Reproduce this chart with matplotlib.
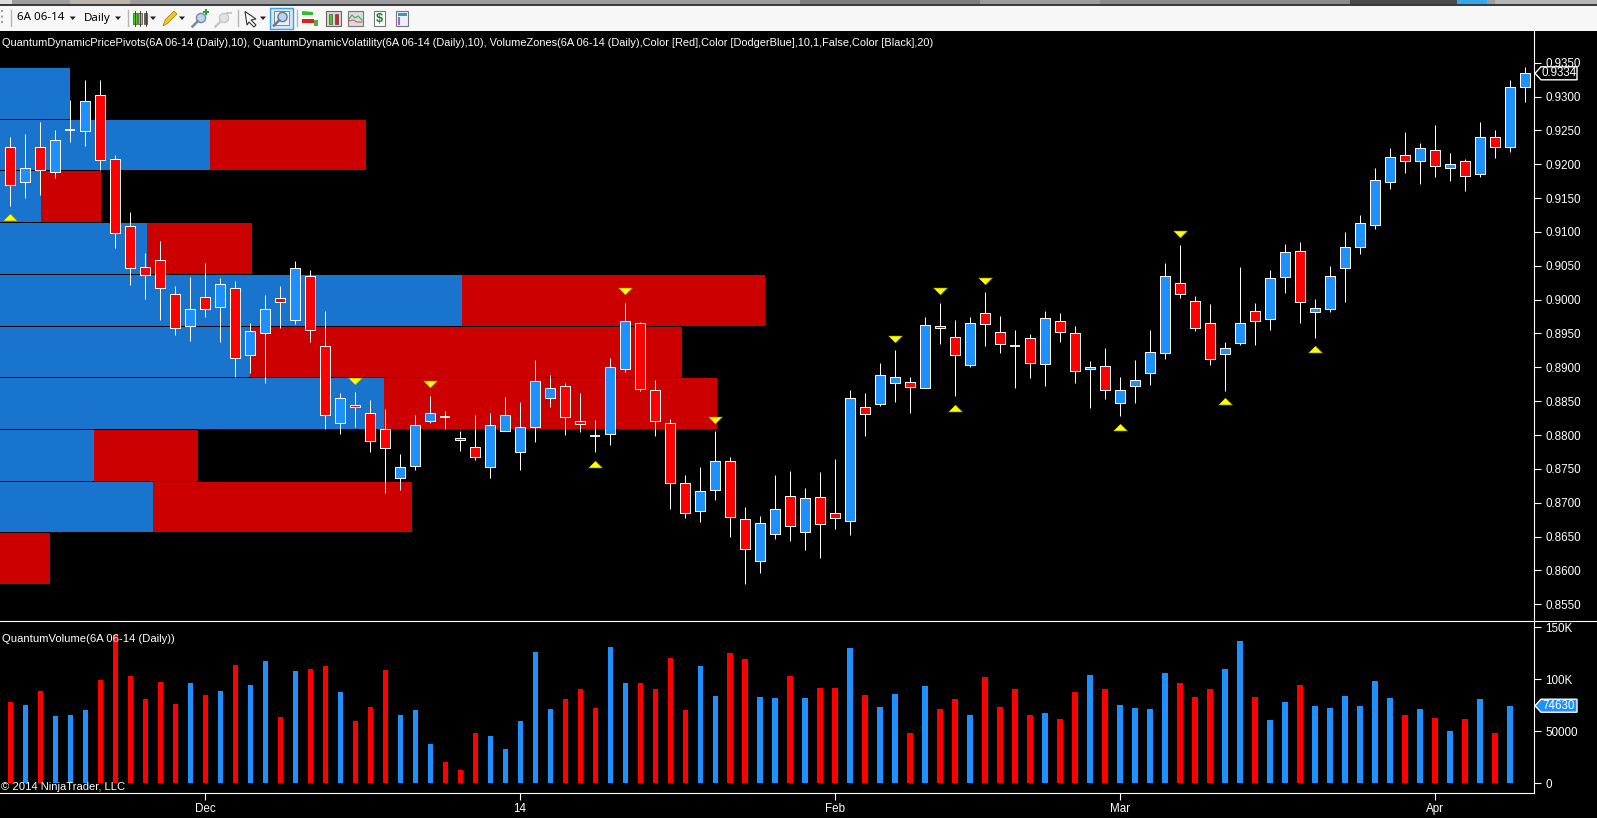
import matplotlib
matplotlib.use('Agg')
import matplotlib.pyplot as plt
from matplotlib.patches import Rectangle, Polygon

plt.rcParams['font.family'] = ['Liberation Sans', 'DejaVu Sans']

W, H = 1597, 818

# candles, one entry per daily bar
opens = [.92250, .91733, .92250, .91881, .92501, .92486, .93018, .92073, .91083, .90478,
         .90581, .90081, .89603, .90036, .89884, .90169, .89175, .89505, .90022, .89706,
         .90346, .89313, .88170, .88441, .88323, .88087, .87358, .87535, .88200, .88260,
         .87954, .87821, .87521, .88052, .87742, .88111, .88554, .88722, .88200, .87979,
         .88008, .88973, .89652, .88663, .88175, .87289, .86876, .87186, .87614, .86758,
         .86132, .86536, .87092, .86566, .87082, .86846, .86728, .88412, .88456, .88766,
         .88781, .88692, .89608, .89446, .89032, .89800, .89519, .89313, .89431, .89047,
         .89681, .89503, .88972, .89016, .88470, .88721, .88913, .89208, .90242, .89976,
         .89651, .89193, .89356, .89828, .89710, .90340, .90714, .89823, .89858, .90463,
         .90774, .91098, .91734, .92132, .92044, .92206, .91940, .92044, .91852, .92408,
         .92250, .93137]
highs = [.92398, .92447, .92624, .92506, .92949, .93244, .93244, .92137, .91295, .90689,
         .90867, .90204, .90337, .90537, .90322, .90278, .89657, .90071, .90204, .90571,
         .90438, .89834, .88623, .88638, .88520, .88387, .87722, .88299, .88579, .88358,
         .88062, .88299, .88328, .88564, .88490, .89111, .88884, .88771, .88623, .88225,
         .89140, .89953, .89672, .88815, .88239, .87412, .87530, .88062, .87678, .86935,
         .86802, .87412, .87471, .87215, .87457, .87644, .88668, .88618, .89067, .89258,
         .88860, .89746, .89953, .89702, .89746, .90115, .89761, .89554, .89490, .89834,
         .89804, .89612, .89095, .89282, .88858, .89110, .89553, .90537, .90808, .90050,
         .89937, .89375, .90483, .89951, .90439, .90823, .90852, .90011, .90498, .91000,
         .91251, .91945, .92241, .92477, .92315, .92580, .92167, .92078, .92625, .92506,
         .93240, .93432]
lows = [.91388, .91507, .91546, .91802, .92329, .92270, .91915, .90763, .90217, .90010,
        .89702, .89470, .89382, .89736, .89381, .88850, .88909, .88761, .89588, .89647,
        .89367, .88082, .88008, .88111, .87742, .87137, .87181, .87476, .88171, .88082,
        .87757, .87624, .87358, .88052, .87476, .87890, .88407, .87993, .88038, .87742,
        .87846, .88938, .88643, .87979, .86900, .86767, .86708, .87033, .86487, .85793,
        .85955, .86457, .86428, .86295, .86177, .86605, .86516, .87979, .88422, .88481,
        .88328, .88692, .89337, .88569, .88998, .89308, .89204, .88687, .88845, .88717,
        .89380, .88775, .88406, .88538, .88287, .88479, .88745, .89129, .90030, .89543,
        .89041, .88657, .89336, .89325, .89558, .90104, .89661, .89439, .89823, .89971,
        .90680, .91049, .91640, .91876, .91714, .91817, .91758, .91610, .91817, .92098,
        .92186, .92925]
closes = [.91689, .91940, .91910, .92353, .92501, .92929, .92058, .90980, .90463, .90369,
          .90169, .89578, .89859, .89859, .90228, .89135, .89534, .89859, .89962, .90463,
          .89549, .88289, .88545, .88412, .87905, .87801, .87526, .88146, .88323, .88260,
          .87924, .87668, .88146, .88294, .88116, .88796, .88692, .88259, .88161, .87979,
          .89002, .89682, .88678, .88200, .87289, .86846, .87171, .87614, .86787, .86314,
          .86698, .86905, .86654, .87068, .86679, .86772, .88545, .88308, .88884, .88855,
          .88707, .89623, .89578, .89180, .89652, .89638, .89342, .89313, .89062, .89726,
          .89518, .88942, .89001, .88662, .88662, .88809, .89223, .90355, .90079, .89577,
          .89119, .89282, .89651, .89681, .90316, .90700, .89961, .89873, .90355, .90774,
          .91138, .91763, .92103, .92044, .92246, .91970, .91999, .91822, .92408, .92260,
          .93137, .93343]

# volume in thousands, the last session has no bar
volumes = [78.2, 75.3, 88.8, 64.7, 65.7, 70.5, 99.4, 142.6, 103.2, 81.1, 97.4, 76.3, 96.5, 84.9,
           88.8, 113.8, 94.6, 117.6, 63.8, 108.0, 109.9, 112.8, 87.8, 59.9, 73.4, 109.0, 65.7,
           70.5, 37.8, 20.5, 12.8, 48.4, 45.5, 33.0, 59.9, 126.3, 71.5, 81.1, 90.7, 72.4, 131.1,
           96.5, 96.5, 90.7, 120.5, 70.5, 112.8, 84.0, 125.3, 119.6, 83.0, 82.1, 103.2, 82.1,
           91.7, 91.7, 130.1, 84.9, 73.4, 85.9, 48.4, 93.6, 71.5, 81.1, 65.7, 102.2, 73.4, 90.7,
           65.7, 67.6, 61.9, 87.8, 104.2, 90.7, 75.3, 72.4, 71.5, 106.1, 96.5, 83.0, 90.7, 109.9,
           136.9, 83.0, 60.9, 78.2, 94.6, 74.4, 72.4, 84.0, 74.4, 98.4, 82.1, 65.7, 71.5, 62.8,
           50.3, 61.9, 81.1, 48.4, 74.63]

# volume zones: price band and how many bars wide the blue and red parts are
zone_hi = [.93422, .92654, .91900, .91132, .90364, .89596, .88843, .88075, .87307, .86554]
zone_lo = [.92668, .91915, .91147, .90379, .89611, .88857, .88089, .87322, .86569, .85800]
zone_blue = [4.67, 14.0, 2.73, 9.8, 30.8, 16.67, 25.6, 6.27, 10.2, 0.0]
zone_red = [0.0, 10.4, 4.0, 7.0, 20.2, 28.8, 22.2, 6.93, 17.27, 3.33]

# pivot markers
pivot_up_x = [0, 39, 63, 74, 81, 87]
pivot_up_y = [.91226, .87575, .88402, .88115, .88499, .89267]
pivot_dn_x = [23, 28, 41, 47, 59, 62, 65, 78]
pivot_dn_y = [.88791, .88747, .90120, .88215, .89411, .90120, .90282, .90975]

price_ticks = [.8550, .8600, .8650, .8700, .8750, .8800, .8850, .8900, .8950, .9000, .9050,
               .9100, .9150, .9200, .9250, .9300, .9350]
vol_ticks = [0, 50, 100, 150]
vol_tick_labels = ['0', '50000', '100K', '150K']
date_ticks = [13, 34, 55, 74, 95]
date_labels = ['Dec', '14', 'Feb', 'Mar', 'Apr']
last_price = '0.9334'
last_volume = '74630'

title = ('QuantumDynamicPricePivots(6A 06-14 (Daily),10), QuantumDynamicVolatility(6A 06-14 (Daily),10), '
         'VolumeZones(6A 06-14 (Daily),Color [Red],Color [DodgerBlue],10,1,False,Color [Black],20)')

BLUE = '#1E90FF'
RED = '#FF0000'
ZONE_BLUE = '#1874CD'
ZONE_RED = '#CD0000'

fig = plt.figure(figsize=(W / 100, H / 100), dpi=100, facecolor='black')

spine_x = 1534
top_y, sep_y, bot_y = 31, 621.3, 793.3
ax = fig.add_axes([0, (H - sep_y) / H, spine_x / W, (sep_y - top_y) / H], facecolor='black')
axv = fig.add_axes([0, (H - bot_y) / H, spine_x / W, (bot_y - sep_y) / H], facecolor='black')

x_left, x_right = -0.673, 101.6
ax.set_xlim(x_left, x_right)
axv.set_xlim(x_left, x_right)
ax.set_ylim(.85248, .93968)
axv.set_ylim(-9.6, 155.8)

# zones
for i in range(len(zone_hi)):
    h = zone_hi[i] - zone_lo[i]
    ax.add_patch(Rectangle((x_left, zone_lo[i]), zone_blue[i], h, fc=ZONE_BLUE, ec='none', zorder=1))
    ax.add_patch(Rectangle((x_left + zone_blue[i], zone_lo[i]), zone_red[i], h, fc=ZONE_RED, ec='none', zorder=1))

# candles
for i in range(len(opens)):
    o, c = opens[i], closes[i]
    ax.vlines(i, lows[i], highs[i], color='white', lw=0.72, zorder=3)
    if o == c:
        ax.hlines(o, i - 0.36, i + 0.36, color='white', lw=1.3, zorder=4)
    else:
        col = BLUE if c > o else RED
        ax.add_patch(Rectangle((i - 0.34, min(o, c)), 0.68, abs(c - o), fc=col, ec='white', lw=0.72,
                               zorder=4, snap=True))

ax.plot(pivot_up_x, pivot_up_y, ls='none', marker=[(-1, -0.5), (1, -0.5), (0, 0.5)], ms=10,
        mfc='#FFFF00', mec='#8a8a00', mew=0.4, zorder=5)
ax.plot(pivot_dn_x, pivot_dn_y, ls='none', marker=[(-1, 0.5), (1, 0.5), (0, -0.5)], ms=10,
        mfc='#FFFF00', mec='#8a8a00', mew=0.4, zorder=5)

# volume bars follow the candle colours
vol_colors = []
for i in range(len(volumes)):
    if closes[i] > opens[i] or i == 4:
        vol_colors.append(BLUE)
    else:
        vol_colors.append(RED)
axv.bar(range(len(volumes)), volumes, width=0.34, color=vol_colors, linewidth=0)

for a in (ax, axv):
    for s in a.spines.values():
        s.set_visible(False)
    a.yaxis.tick_right()
    a.tick_params(axis='y', colors='white', length=5, width=0.8, pad=3, labelsize=8.4)

ax.set_xticks([])
ax.set_yticks(price_ticks)
ax.set_yticklabels(['%.4f' % p for p in price_ticks])
axv.set_yticks(vol_ticks)
axv.set_yticklabels(vol_tick_labels)
axv.set_xticks(date_ticks)
axv.set_xticklabels(date_labels)
axv.tick_params(axis='x', colors='white', length=5, width=0.8, pad=2, labelsize=8.4)

# overlay in pixel coordinates for the window chrome and panel lines
ov = fig.add_axes([0, 0, 1, 1], facecolor='none', zorder=10)
ov.set_xlim(0, W)
ov.set_ylim(H, 0)
ov.axis('off')

ov.plot([0, W], [sep_y, sep_y], color='white', lw=0.8)
ov.plot([0, spine_x], [bot_y, bot_y], color='white', lw=0.8)
ov.plot([spine_x, spine_x], [top_y, bot_y], color='white', lw=0.8)

ov.text(2, 43, title, color='white', fontsize=7.9, va='center', ha='left')
ov.text(2, 639, 'QuantumVolume(6A 06-14 (Daily))', color='white', fontsize=8.1, va='center', ha='left')
ov.text(1, 787, '\u00a9 2014 NinjaTrader, LLC', color='white', fontsize=8.1, va='center', ha='left')


def y_pixel(a, val):
    return H - a.transData.transform((0, val))[1]


def value_flag(y, label, face, edge):
    pts = [(1535, y), (1541, y - 6.5), (1577, y - 6.5), (1577, y + 6.5), (1541, y + 6.5)]
    ov.add_patch(Polygon(pts, closed=True, fc=face, ec=edge, lw=1))
    ov.text(1542, y, label, color='white', fontsize=8.4, va='center', ha='left')


value_flag(y_pixel(ax, closes[-1]), last_price, 'black', 'white')
value_flag(y_pixel(axv, volumes[-1]), last_volume, BLUE, 'white')

# window strip along the top
ov.add_patch(Rectangle((0, 0), W, 4, fc='#9c9c9c', ec='none'))
for sx, sw, sc in ((0, 12, '#dcdcdc'), (70, 60, '#b8b4a8'), (800, 180, '#7d7d7d'), (1100, 250, '#8a8a8a'),
                   (1350, 107, '#4a4a4a'), (1457, 30, '#35a7e8'), (1495, 102, '#b4b4b4')):
    ov.add_patch(Rectangle((sx, 0), sw, 4, fc=sc, ec='none'))
ov.add_patch(Rectangle((0, 4), W, 2, fc='#3c3c3c', ec='none'))

# toolbar
ov.add_patch(Rectangle((0, 6), W, 25, fc='#f7f7f7', ec='none'))
for sx in (10.7, 128, 238, 297):
    ov.plot([sx, sx], [10, 26], color='#b5b5b5', lw=1)
ov.plot([1.5, 1.5], [10, 26], color='#a0a0a0', lw=1.5, ls=':')
ov.text(17, 18, '6A 06-14', color='black', fontsize=8.3, va='center', family=['Noto Sans', 'DejaVu Sans'])
ov.text(84, 18, 'Daily', color='black', fontsize=8.3, va='center', family=['Noto Sans', 'DejaVu Sans'])
for tx in (72.7, 118, 153, 182, 263):
    ov.add_patch(Polygon([(tx - 3, 16.5), (tx + 3, 16.5), (tx, 20)], fc='#222222', ec='none'))
# candle icon
for bx, bc in ((135, '#44cc22'), (140, '#aacc22'), (145.5, '#ee2222')):
    ov.plot([bx, bx], [10.5, 26], color='#444444', lw=0.7)
    ov.add_patch(Rectangle((bx - 1.7, 13), 3.4, 10.5, fc=bc, ec='#444444', lw=0.5))
# pencil
ov.add_patch(Polygon([(163, 26), (165, 20), (174, 11), (177, 14), (168, 23)], fc='#f2c81e', ec='#9a7a10', lw=0.5))


def magnifier(cx, cy, col, face='#b8d4ee'):
    ov.add_patch(plt.Circle((cx, cy), 4.6, fc=face, ec=col, lw=1))
    ov.plot([cx - 3.3, cx - 8.5], [cy + 3.3, cy + 8.5], color=col, lw=1.8)


magnifier(201, 18, '#7a8a9a')
ov.add_patch(Rectangle((203, 11), 6, 2, fc='#22aa22', ec='none'))
ov.add_patch(Rectangle((205, 9), 2, 6, fc='#22aa22', ec='none'))
magnifier(224, 18, '#c8c8c8', '#e2e2e2')
ov.add_patch(Rectangle((226, 11.5), 6, 2, fc='#c8c8c8', ec='none'))
# cursor
ov.add_patch(Polygon([(245, 11.5), (256, 19), (251, 20), (256, 25), (254, 27), (249, 22), (247, 25)],
                     fc='white', ec='#333333', lw=0.8))
# selected zoom button
ov.add_patch(Rectangle((270, 7.5), 23, 21.5, fc='#d4e8fa', ec='#3f9fe8', lw=1))
ov.add_patch(Rectangle((274, 11), 15, 14, fc='#e8f0f6', ec='#777777', lw=0.6))
magnifier(282.5, 17, '#6a7a8a')
# remaining buttons
ov.add_patch(Polygon([(302, 11), (313, 12), (313, 15), (302, 15)], fc='#33bb33', ec='none'))
ov.add_patch(Rectangle((302, 19), 12, 4, fc='#dd2222', ec='none'))
ov.add_patch(Rectangle((314, 20), 4, 6, fc='#55aa44', ec='none'))
ov.add_patch(Rectangle((326, 11), 15, 15, fc='#d8d8d8', ec='#666666', lw=0.8))
ov.add_patch(Rectangle((329, 13.5), 3, 10, fc='#44cc22', ec='#333333', lw=0.4))
ov.add_patch(Rectangle((335, 13.5), 3, 10, fc='#dd2222', ec='#333333', lw=0.4))
ov.add_patch(Rectangle((348, 11), 15, 15, fc='#dcdcdc', ec='#777777', lw=0.8))
ov.plot([349, 352, 355, 358, 362], [19, 15, 18, 16, 20], color='#33aa66', lw=0.8)
ov.plot([349, 353, 357, 362], [21, 20, 22, 22], color='#dd5555', lw=0.8)
ov.add_patch(Rectangle((373.5, 11), 11.5, 15, fc='white', ec='#777777', lw=0.8))
ov.text(379.2, 18.7, '$', color='#118811', fontsize=9, fontweight='bold', ha='center', va='center')
ov.add_patch(Rectangle((396, 11), 12, 15, fc='#eeeeff', ec='#777777', lw=0.8))
ov.add_patch(Rectangle((397.5, 12.5), 9, 3, fc='#3399cc', ec='none'))
ov.add_patch(Rectangle((397.5, 17), 2.5, 8, fc='#9966dd', ec='none'))

fig.savefig('out.png', dpi=100, facecolor='black')
